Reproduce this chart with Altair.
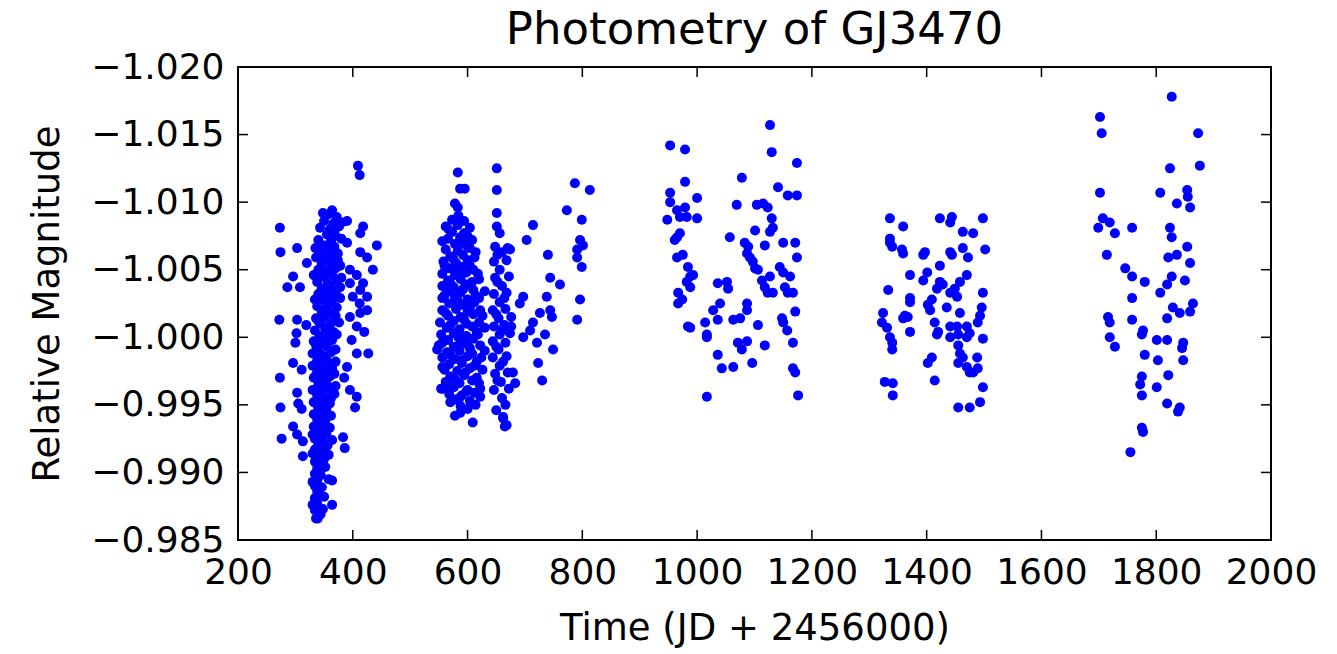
import altair as alt
import pandas as pd

title_text = "Photometry of GJ3470"
x_title = "Time (JD + 2456000)"
y_title = "Relative Magnitude"
x_ticks = [200, 400, 600, 800, 1000, 1200, 1400, 1600, 1800, 2000]
y_ticks = [-1.020, -1.015, -1.010, -1.005, -1.000, -0.995, -0.990, -0.985]

# season 1 (JD ~ 270-445)
season_1 = [
    (273, -1.0081), (274, -1.0063), (272, -1.0013), (273, -0.9970), (274, -0.9948), (276, -0.9925),
    (303, -1.0066), (286, -1.0037), (296, -1.0045), (308, -1.0037), (303, -1.0013), (302, -1.0003),
    (300, -0.9996), (296, -0.9981), (311, -0.9976), (303, -0.9959), (305, -0.9951), (311, -0.9947),
    (296, -0.9934), (303, -0.9928), (313, -0.9923), (313, -0.9912), (320, -1.0055), (319, -1.0009),
    (364, -1.0094), (358, -1.0091), (372, -1.0089), (350, -1.0086), (366, -1.0084), (343, -1.0081),
    (360, -1.0080), (376, -1.0082), (355, -1.0076), (370, -1.0075), (340, -1.0072), (362, -1.0071),
    (380, -1.0073), (350, -1.0068), (368, -1.0067), (343, -1.0063), (358, -1.0064), (374, -1.0062),
    (336, -1.0059), (352, -1.0058), (366, -1.0060), (346, -1.0054), (362, -1.0055), (378, -1.0053),
    (340, -1.0050), (355, -1.0049), (370, -1.0051), (348, -1.0045), (364, -1.0046), (380, -1.0044),
    (338, -1.0041), (356, -1.0040), (372, -1.0042), (346, -1.0036), (362, -1.0037), (340, -1.0032),
    (354, -1.0031), (370, -1.0033), (348, -1.0028), (364, -1.0027), (378, -1.0029), (338, -1.0023),
    (356, -1.0024), (372, -1.0022), (346, -1.0019), (362, -1.0018), (336, -1.0014), (352, -1.0015),
    (368, -1.0013), (344, -1.0010), (360, -1.0009), (376, -1.0011), (334, -1.0005), (352, -1.0006),
    (366, -1.0004), (342, -1.0001), (358, -1.0000), (372, -1.0002), (332, -0.9997), (348, -0.9996),
    (364, -0.9998), (340, -0.9992), (356, -0.9993), (370, -0.9991), (330, -0.9988), (346, -0.9987),
    (362, -0.9989), (338, -0.9983), (354, -0.9984), (370, -0.9982), (330, -0.9979), (346, -0.9978),
    (362, -0.9980), (338, -0.9974), (352, -0.9975), (368, -0.9973), (332, -0.9970), (346, -0.9969),
    (360, -0.9971), (340, -0.9965), (354, -0.9966), (370, -0.9964), (330, -0.9961), (346, -0.9960),
    (362, -0.9962), (338, -0.9957), (352, -0.9956), (368, -0.9958), (332, -0.9952), (346, -0.9953),
    (360, -0.9951), (340, -0.9948), (354, -0.9947), (332, -0.9943), (346, -0.9944), (362, -0.9942),
    (338, -0.9939), (352, -0.9938), (332, -0.9934), (346, -0.9935), (360, -0.9933), (340, -0.9930),
    (354, -0.9929), (334, -0.9925), (348, -0.9926), (364, -0.9924), (340, -0.9921), (356, -0.9920),
    (334, -0.9917), (348, -0.9916), (340, -0.9912), (358, -0.9913), (334, -0.9908), (346, -0.9907),
    (338, -0.9903), (352, -0.9904), (334, -0.9899), (344, -0.9898), (338, -0.9894), (358, -0.9895),
    (334, -0.9890), (346, -0.9889), (338, -0.9886), (334, -0.9881), (350, -0.9882), (338, -0.9877),
    (334, -0.9872), (348, -0.9873), (336, -0.9866),
    (348, -1.0092), (368, -1.0078), (335, -1.0066), (374, -1.0057), (352, -1.0047), (332, -1.0046),
    (360, -1.0034), (378, -1.0037), (334, -1.0028), (352, -1.0021), (370, -1.0016), (340, -1.0012),
    (356, -1.0003), (336, -0.9994), (352, -0.9985), (364, -0.9977), (336, -0.9972), (350, -0.9963),
    (362, -0.9955), (338, -0.9950), (354, -0.9941), (342, -0.9936), (330, -0.9928), (346, -0.9923),
    (330, -0.9914), (350, -0.9910), (342, -0.9901), (330, -0.9893), (342, -0.9884), (330, -0.9876),
    (344, -0.9869),
    (381, -1.0085), (390, -1.0086), (418, -1.0082), (413, -1.0077), (442, -1.0068), (390, -1.0070),
    (413, -1.0063), (425, -1.0059), (435, -1.0050), (395, -1.0040), (413, -1.0035), (425, -1.0030),
    (413, -1.0018), (427, -0.9988), (407, -0.9988), (395, -0.9961), (407, -0.9956), (404, -0.9948),
    (383, -0.9926), (386, -0.9918), (364, -0.9894), (364, -0.9876), (339, -0.9866), (409, -1.0127),
    (412, -1.0120), (395, -1.0050), (407, -1.0046), (418, -1.0040), (400, -1.0030), (412, -1.0025),
    (425, -1.0020), (395, -1.0015), (407, -1.0008), (420, -1.0004), (398, -0.9998), (390, -0.9978),
    (385, -0.9970),
]

# season 2 (JD ~ 545-815)
season_2 = [
    (573, -1.0087), (594, -1.0086), (562, -1.0082), (583, -1.0083), (604, -1.0081), (573, -1.0078),
    (594, -1.0077), (566, -1.0073), (587, -1.0074), (608, -1.0072), (578, -1.0069), (598, -1.0068),
    (562, -1.0065), (583, -1.0064), (604, -1.0066), (570, -1.0060), (592, -1.0061), (612, -1.0059),
    (558, -1.0056), (580, -1.0055), (600, -1.0057), (568, -1.0051), (590, -1.0052), (610, -1.0050),
    (556, -1.0047), (578, -1.0046), (598, -1.0048), (618, -1.0047), (566, -1.0042), (588, -1.0043),
    (608, -1.0041), (556, -1.0038), (576, -1.0037), (598, -1.0039), (566, -1.0034), (588, -1.0033),
    (610, -1.0035), (630, -1.0034), (556, -1.0029), (578, -1.0030), (600, -1.0028), (620, -1.0029),
    (568, -1.0025), (590, -1.0024), (612, -1.0026), (556, -1.0020), (580, -1.0021), (600, -1.0019),
    (622, -1.0020), (566, -1.0016), (588, -1.0015), (610, -1.0017), (552, -1.0011), (576, -1.0012),
    (598, -1.0010), (620, -1.0011), (564, -1.0007), (586, -1.0006), (608, -1.0008), (630, -1.0007),
    (554, -1.0002), (576, -1.0003), (598, -1.0001), (618, -1.0002), (566, -0.9998), (588, -0.9997),
    (610, -0.9999), (550, -0.9994), (576, -0.9993), (598, -0.9995), (622, -0.9994), (564, -0.9989),
    (586, -0.9990), (608, -0.9988), (556, -0.9985), (578, -0.9984), (600, -0.9986), (624, -0.9985),
    (568, -0.9980), (590, -0.9981), (612, -0.9979), (560, -0.9976), (582, -0.9975), (604, -0.9977),
    (626, -0.9976), (570, -0.9971), (594, -0.9972), (616, -0.9970), (562, -0.9967), (586, -0.9966),
    (608, -0.9968), (554, -0.9962), (576, -0.9963), (600, -0.9961), (622, -0.9962), (568, -0.9958),
    (590, -0.9957), (612, -0.9959), (578, -0.9954), (604, -0.9953), (588, -0.9949), (614, -0.9950),
    (584, -1.0090), (567, -1.0080), (600, -1.0075), (556, -1.0071), (592, -1.0070), (614, -1.0063),
    (575, -1.0058), (560, -1.0053), (604, -1.0053), (583, -1.0049), (620, -1.0043), (570, -1.0040),
    (593, -1.0036), (560, -1.0031), (614, -1.0031), (583, -1.0027), (604, -1.0022), (562, -1.0018),
    (626, -1.0016), (594, -1.0013), (570, -1.0009), (616, -1.0004), (584, -1.0000), (556, -0.9996),
    (604, -0.9992), (630, -0.9990), (570, -0.9987), (590, -0.9983), (616, -0.9982), (556, -0.9978),
    (596, -0.9974), (578, -0.9969), (620, -0.9966), (565, -0.9964), (598, -0.9960), (586, -0.9955),
    (622, -0.9956), (570, -0.9952), (600, -0.9947), (578, -0.9942),
    (648, -1.0067), (670, -1.0066), (652, -1.0061), (646, -1.0056), (668, -1.0057), (656, -1.0050),
    (648, -1.0044), (672, -1.0045), (660, -1.0038), (646, -1.0032), (668, -1.0033), (656, -1.0026),
    (644, -1.0020), (666, -1.0021), (654, -1.0014), (676, -1.0015), (646, -1.0008), (664, -1.0009),
    (656, -1.0002), (674, -1.0003), (644, -0.9997), (666, -0.9996), (654, -0.9991), (644, -0.9985),
    (668, -0.9986), (656, -0.9979), (648, -0.9973), (670, -0.9974), (658, -0.9967), (646, -0.9961),
    (672, -0.9962), (660, -0.9955), (650, -0.9946), (662, -0.9940), (668, -0.9935),
    (660, -1.0063), (652, -1.0041), (664, -1.0029), (650, -1.0017), (660, -1.0005), (676, -1.0008),
    (650, -0.9993), (662, -0.9982), (652, -0.9968), (666, -0.9950),
    (583, -1.0122), (651, -1.0125), (651, -1.0109), (587, -1.0110), (595, -1.0110), (578, -1.0099),
    (583, -1.0096), (651, -1.0092), (651, -1.0082), (656, -1.0077), (674, -1.0065), (714, -1.0083),
    (703, -1.0072), (740, -1.0061), (744, -1.0044), (761, -1.0039), (738, -1.0030), (697, -1.0030),
    (691, -1.0025), (726, -1.0018), (714, -1.0011), (709, -1.0005), (697, -1.0000), (744, -1.0020),
    (747, -1.0015), (735, -1.0002), (721, -0.9996), (749, -0.9991), (723, -0.9981), (730, -0.9968),
    (679, -0.9974), (683, -0.9966), (662, -0.9941), (665, -0.9934), (609, -0.9937), (587, -0.9944),
    (547, -0.9991), (557, -0.9962), (787, -1.0114), (813, -1.0109), (773, -1.0094), (799, -1.0087),
    (796, -1.0072), (791, -1.0065), (801, -1.0068), (791, -1.0059), (799, -1.0052), (796, -1.0028),
    (791, -1.0013),
]

# season 3 (JD ~ 945-1180)
season_3 = [
    (953, -1.0142), (979, -1.0139), (979, -1.0115), (953, -1.0107), (953, -1.0100), (965, -1.0094),
    (979, -1.0096), (948, -1.0087), (970, -1.0089), (982, -1.0089), (1000, -1.0088), (965, -1.0074),
    (970, -1.0077), (961, -1.0072), (965, -1.0059), (975, -1.0061), (984, -1.0052), (988, -1.0045),
    (993, -1.0046), (982, -1.0041), (988, -1.0037), (967, -1.0033), (974, -1.0028), (967, -1.0025),
    (984, -1.0008), (988, -1.0007), (1017, -0.9956), (1014, -1.0011), (1017, -1.0002), (1017, -1.0000),
    (1036, -0.9987), (1043, -0.9977), (1063, -0.9978), (1028, -1.0020), (1040, -1.0025), (1036, -1.0040),
    (1052, -1.0041), (1054, -1.0036), (1036, -1.0013), (1063, -1.0013), (1075, -1.0014), (1087, -1.0025),
    (1087, -1.0020), (1071, -0.9996), (1087, -0.9997), (1078, -0.9991), (1096, -0.9981), (1106, -1.0009),
    (1118, -0.9994), (1069, -1.0098), (1057, -1.0074), (1078, -1.0118), (1104, -1.0098), (1115, -1.0099),
    (1123, -1.0096), (1130, -1.0088), (1101, -1.0079), (1127, -1.0078), (1132, -1.0081), (1083, -1.0070),
    (1089, -1.0067), (1087, -1.0062), (1092, -1.0059), (1097, -1.0056), (1101, -1.0051), (1106, -1.0050),
    (1118, -1.0068), (1113, -1.0042), (1118, -1.0037), (1127, -1.0045), (1123, -1.0033), (1132, -1.0033),
    (1144, -1.0052), (1150, -1.0048), (1153, -1.0037), (1162, -1.0045), (1158, -1.0033), (1167, -1.0033),
    (1150, -1.0070), (1171, -1.0070), (1174, -1.0059), (1171, -1.0019), (1148, -1.0014), (1150, -1.0011),
    (1157, -1.0005), (1167, -0.9996), (1167, -0.9977), (1171, -0.9974), (1176, -0.9957), (1130, -1.0137),
    (1141, -1.0111), (1158, -1.0105), (1174, -1.0105), (1174, -1.0129), (1127, -1.0157), (1000, -1.0103),
]

# season 4 (JD ~ 1320-1505)
season_4 = [
    (1336, -1.0088), (1359, -1.0082), (1336, -1.0073), (1336, -1.0070), (1340, -1.0067), (1357, -1.0065),
    (1359, -1.0062), (1371, -1.0046), (1333, -1.0035), (1371, -1.0029), (1371, -1.0026), (1324, -1.0018),
    (1322, -1.0011), (1331, -1.0007), (1336, -1.0000), (1340, -0.9996), (1340, -0.9991), (1362, -1.0016),
    (1359, -1.0014), (1367, -1.0015), (1371, -1.0004), (1327, -0.9967), (1341, -0.9966), (1341, -0.9957),
    (1397, -1.0063), (1394, -1.0061), (1401, -1.0048), (1394, -1.0042), (1423, -1.0088), (1444, -1.0089),
    (1441, -1.0085), (1423, -1.0053), (1423, -1.0041), (1418, -1.0036), (1428, -1.0039), (1441, -1.0063),
    (1444, -1.0061), (1463, -1.0078), (1481, -1.0077), (1463, -1.0066), (1472, -1.0059), (1502, -1.0065),
    (1498, -1.0088), (1470, -1.0046), (1458, -1.0041), (1449, -1.0036), (1441, -1.0033), (1453, -1.0030),
    (1402, -1.0024), (1409, -1.0028), (1406, -1.0020), (1435, -1.0022), (1458, -1.0018), (1414, -1.0011),
    (1420, -1.0004), (1418, -1.0002), (1441, -1.0008), (1453, -1.0008), (1441, -1.0000), (1455, -1.0002),
    (1470, -1.0008), (1470, -1.0000), (1475, -1.0003), (1496, -1.0022), (1493, -1.0016), (1489, -1.0011),
    (1498, -1.0033), (1498, -0.9999), (1455, -0.9994), (1458, -0.9988), (1463, -0.9985), (1488, -0.9985),
    (1455, -0.9981), (1470, -0.9978), (1475, -0.9974), (1481, -0.9974), (1489, -0.9977), (1409, -0.9985),
    (1402, -0.9981), (1414, -0.9968), (1498, -0.9963), (1493, -0.9952), (1475, -0.9948), (1455, -0.9948),
]

# season 5 (JD ~ 1695-1880)
season_5 = [
    (1702, -1.0163), (1705, -1.0151), (1702, -1.0107), (1873, -1.0151), (1824, -1.0125), (1876, -1.0127),
    (1807, -1.0107), (1836, -1.0099), (1854, -1.0109), (1855, -1.0104), (1859, -1.0096), (1707, -1.0088),
    (1719, -1.0085), (1728, -1.0077), (1699, -1.0081), (1758, -1.0081), (1824, -1.0081), (1827, -1.0074),
    (1714, -1.0061), (1854, -1.0067), (1836, -1.0061), (1821, -1.0059), (1859, -1.0055), (1746, -1.0051),
    (1758, -1.0045), (1780, -1.0041), (1827, -1.0045), (1819, -1.0039), (1850, -1.0042), (1807, -1.0033),
    (1758, -1.0029), (1829, -1.0022), (1841, -1.0018), (1864, -1.0025), (1859, -1.0019), (1819, -1.0014),
    (1716, -1.0015), (1719, -1.0011), (1758, -1.0013), (1777, -1.0005), (1775, -1.0002), (1719, -1.0000),
    (1728, -0.9993), (1801, -0.9998), (1819, -0.9998), (1847, -0.9996), (1845, -0.9992), (1780, -0.9987),
    (1803, -0.9983), (1847, -0.9983), (1821, -0.9972), (1775, -0.9971), (1772, -0.9965), (1775, -0.9957),
    (1801, -0.9963), (1819, -0.9951), (1841, -0.9948), (1838, -0.9945), (1775, -0.9933), (1777, -0.9930),
    (1755, -0.9915), (1827, -1.0178),
]

rows = []
for season in (season_1, season_2, season_3, season_4, season_5):
    for t, m in season:
        rows.append({"time": t, "mag": m})
df = pd.DataFrame(rows)

W, H = 1033, 473
FONT = "DejaVu Sans"
TICK_LEN = 10

xscale = alt.Scale(domain=[200, 2000], nice=False, zero=False)
yscale = alt.Scale(domain=[-1.020, -0.985], nice=False, zero=False, reverse=True)

x_axis = alt.Axis(title=x_title, values=x_ticks, format="d", ticks=False, domain=False,
                  grid=False, labelFontSize=36, labelPadding=15, titleFontSize=37,
                  titlePadding=20, titleFontWeight="normal", labelFont=FONT, titleFont=FONT,
                  labelColor="black", titleColor="black", labelFlush=False)
y_axis = alt.Axis(title=y_title, values=y_ticks, format=".3f", ticks=False, domain=False,
                  grid=False, labelFontSize=36, labelPadding=14, titleFontSize=37,
                  titlePadding=24, titleFontWeight="normal", labelFont=FONT, titleFont=FONT,
                  labelColor="black", titleColor="black", labelFlush=False)

points = alt.Chart(df).mark_circle(size=100, color="#0000ff", opacity=1).encode(
    x=alt.X("time:Q", scale=xscale, axis=x_axis),
    y=alt.Y("mag:Q", scale=yscale, axis=y_axis),
)

xt = pd.DataFrame({"time": x_ticks})
yt = pd.DataFrame({"mag": y_ticks})

tick_style = dict(color="black", strokeWidth=1.5)
xb = alt.Chart(xt).mark_rule(**tick_style).encode(
    x=alt.X("time:Q", scale=xscale, axis=x_axis), y=alt.value(H), y2=alt.value(H - TICK_LEN))
xtop = alt.Chart(xt).mark_rule(**tick_style).encode(
    x=alt.X("time:Q", scale=xscale, axis=x_axis), y=alt.value(0), y2=alt.value(TICK_LEN))
yl = alt.Chart(yt).mark_rule(**tick_style).encode(
    y=alt.Y("mag:Q", scale=yscale, axis=y_axis), x=alt.value(0), x2=alt.value(TICK_LEN))
yr = alt.Chart(yt).mark_rule(**tick_style).encode(
    y=alt.Y("mag:Q", scale=yscale, axis=y_axis), x=alt.value(W), x2=alt.value(W - TICK_LEN))

chart = alt.layer(points, xb, xtop, yl, yr).properties(
    width=W, height=H,
    title=alt.TitleParams(title_text, fontSize=45, font=FONT, fontWeight="normal",
                          baseline="bottom", offset=-49, color="black", anchor="middle"),
    autosize=alt.AutoSizeParams(type="none"),
    padding={"left": 238, "top": 67, "right": 66, "bottom": 114},
    background="white",
).configure_view(stroke="black", strokeWidth=2)

chart.save("out.html", embed_options={"renderer": "svg", "actions": False})
